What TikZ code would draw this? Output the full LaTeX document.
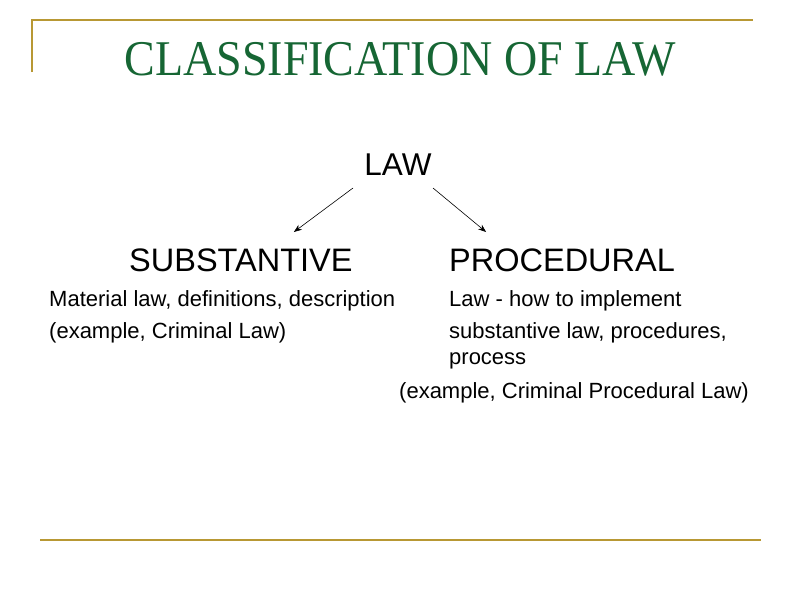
\documentclass[tikz,border=0pt]{standalone}
\usepackage{fontspec}
\setmainfont{Liberation Sans}
\newfontfamily\titlefont[FakeStretch=0.92]{Liberation Serif}
\usepackage{tikz}
\usetikzlibrary{calc}
\usetikzlibrary{arrows.meta}
\definecolor{titlegreen}{RGB}{22,102,52}
\definecolor{rulegold}{RGB}{184,152,52}
\tikzset{
  textnode/.style = {inner sep=0pt, anchor=base west},
  title_node/.style = {inner sep=0pt, anchor=base, text=titlegreen,
    font=\titlefont\fontsize{50}{56}\selectfont},
  root_node/.style = {inner sep=0pt, anchor=base,
    font=\fontsize{31.5}{37}\selectfont},
  head_node/.style = {textnode, font=\fontsize{32.5}{38}\selectfont},
  body_node/.style = {textnode, font=\fontsize{22}{27}\selectfont},
  rule_line/.style = {draw=rulegold, line width=2pt},
  arrow_line/.style = {-{Stealth[length=8pt, width=6pt]}, line width=0.6pt}
}
\begin{document}
\begin{tikzpicture}[x=1pt, y=-1pt]
  \useasboundingbox (0,0) rectangle (800,600);
  % frame rules
  \draw[rule_line] (32,72) -- (32,20) -- (753,20);
  \draw[rule_line, line width=2.6pt] (40,540) -- (761,540);
  % title
  \node[title_node] (title) at (400,75) {CLASSIFICATION OF LAW};
  % tree
  \node[root_node] (law) at (398,175) {LAW};
  \node[head_node] (subst) at (129,271) {SUBSTANTIVE};
  \node[head_node] (proc) at (449,271) {PROCEDURAL};
  \draw[arrow_line] ([shift={(-45pt,-13pt)}]law.base) -- ([shift={(53pt,39pt)}]subst.base);
  \draw[arrow_line] ([shift={(35pt,-13pt)}]law.base) -- ([shift={(-76pt,39pt)}]proc.base);
  % descriptions
  \node[body_node] (subst_def) at (49,306) {Material law, definitions, description};
  \node[body_node] (subst_ex) at (49,338) {(example, Criminal Law)};
  \node[body_node] (proc_def) at (449,306) {Law - how to implement};
  \node[body_node] (proc_def2) at (449,338) {substantive law, procedures,};
  \node[body_node] (proc_def3) at (449,364) {process};
  \node[body_node] (proc_ex) at (399,398) {(example, Criminal Procedural Law)};
\end{tikzpicture}
\end{document}
